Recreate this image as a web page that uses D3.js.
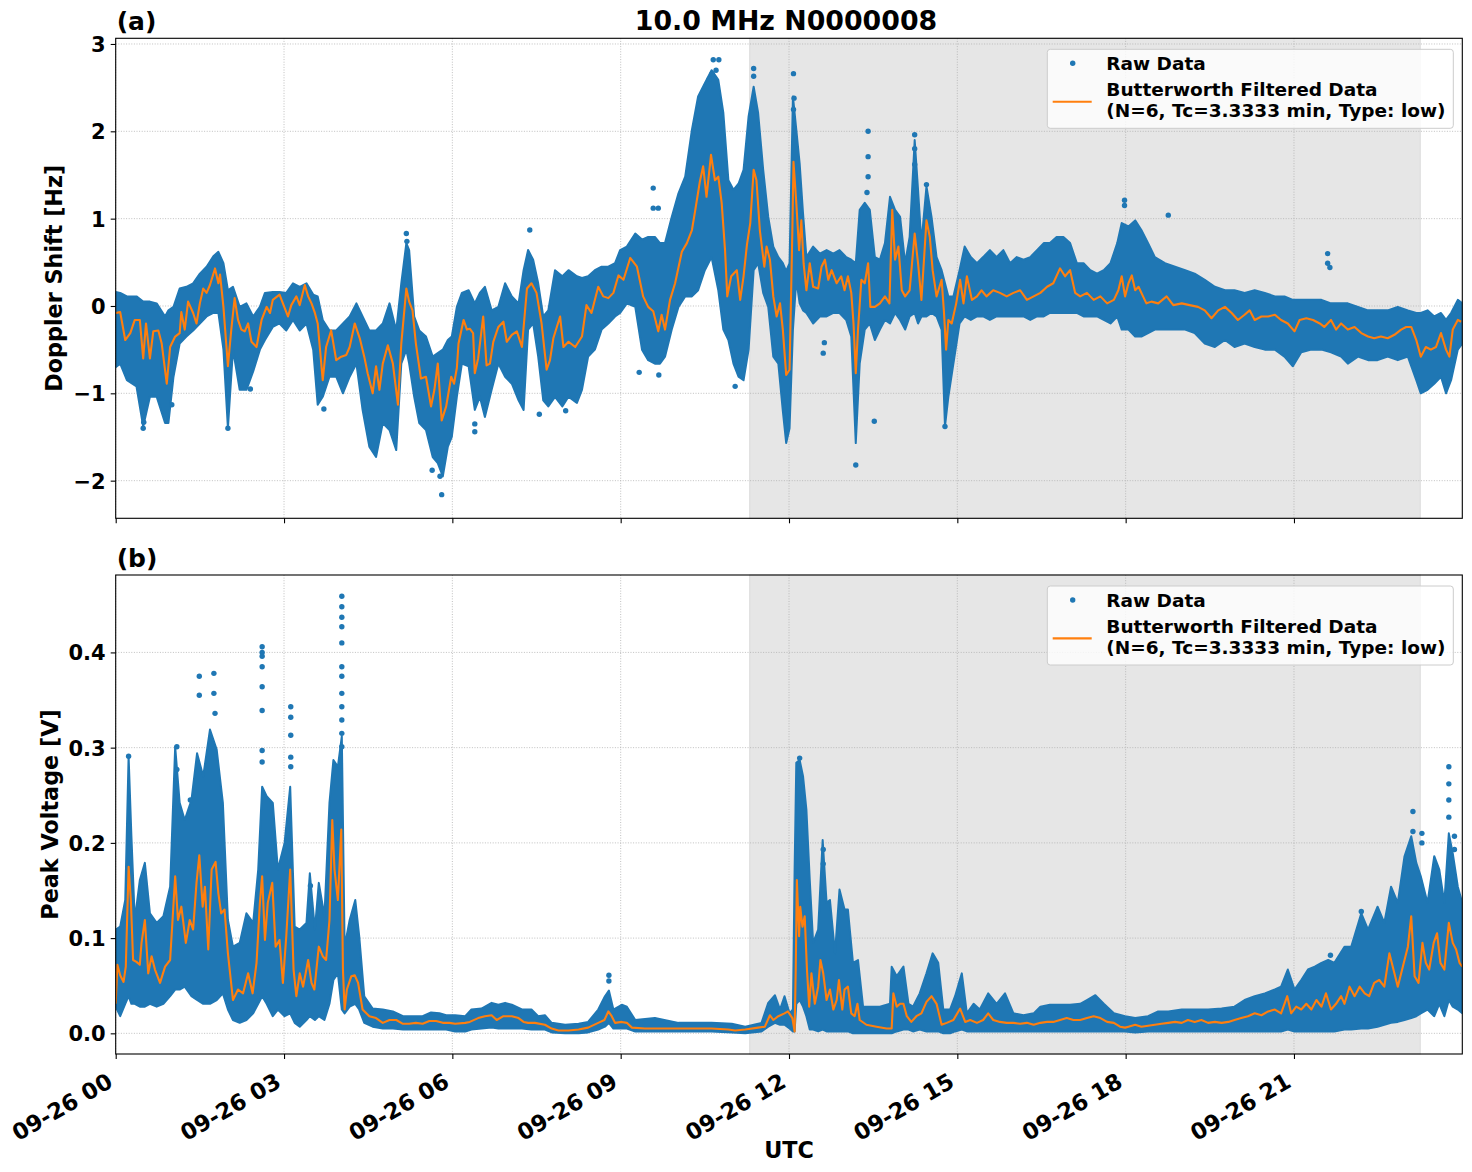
<!DOCTYPE html>
<html><head><meta charset="utf-8">
<script src="https://cdn.jsdelivr.net/npm/d3@7"></script>
<style>
body{margin:0;background:#fff}
svg{display:block}
text{font-family:"DejaVu Sans",sans-serif;font-weight:bold;fill:#000}
</style>
</head><body>
<svg id="chart" width="1472" height="1172"></svg>
<script>
// ---------------- DATA ----------------
const titleText = "10.0 MHz N0000008";
const panelLabels = ["(a)", "(b)"];
const yLabels = ["Doppler Shift [Hz]", "Peak Voltage [V]"];
const xLabel = "UTC";
const legendRaw = "Raw Data";
const legendFilt = ["Butterworth Filtered Data", "(N=6, Tc=3.3333 min, Type: low)"];
const xTickHours = [0, 3, 6, 9, 12, 15, 18, 21];
const yTicksA = [-2, -1, 0, 1, 2, 3];
const yTicksB = [0.0, 0.1, 0.2, 0.3, 0.4];
const shadeHours = [11.30, 23.25];

// Raw-data envelope, panel (a): [hour, upper, lower]
const bandA = [
[0.00,0.16,-0.70],[0.08,0.15,-0.66],[0.20,0.11,-0.85],[0.37,0.11,-0.92],[0.49,0.05,-1.38],[0.61,0.05,-1.04],
[0.73,0.03,-1.04],[0.88,-0.12,-1.34],[0.94,-0.05,-1.34],[1.03,-0.01,-0.81],[1.14,0.20,-0.43],[1.26,0.22,-0.35],
[1.38,0.26,-0.28],[1.50,0.37,-0.20],[1.62,0.45,-0.12],[1.74,0.57,-0.08],[1.83,0.62,-0.08],[1.92,0.49,-0.50],
[2.00,0.18,-1.40],[2.09,0.22,-0.50],[2.21,-0.01,-0.96],[2.33,0.03,-0.96],[2.45,-0.12,-0.75],[2.57,-0.01,-0.50],
[2.66,0.15,-0.39],[2.80,0.16,-0.24],[2.92,0.16,-0.20],[3.04,0.15,-0.28],[3.16,0.26,-0.16],[3.28,0.22,-0.28],
[3.40,0.26,-0.20],[3.52,0.13,-0.50],[3.60,0.11,-1.13],[3.69,-0.16,-1.04],[3.81,-0.28,-0.81],[3.93,-0.28,-0.81],
[4.05,-0.20,-1.00],[4.17,-0.12,-0.81],[4.29,0.03,-0.66],[4.40,-0.12,-1.19],[4.52,-0.28,-1.61],[4.64,-0.28,-1.73],
[4.76,-0.20,-1.34],[4.88,0.03,-1.42],[5.00,-0.28,-1.65],[5.09,0.26,-0.66],[5.18,0.72,-0.50],[5.23,0.64,-0.66],
[5.32,-0.12,-1.04],[5.41,-0.28,-1.34],[5.53,-0.35,-1.42],[5.65,-0.58,-1.73],[5.74,-0.54,-1.80],[5.83,-0.50,-1.95],
[5.92,-0.39,-1.61],[5.99,-0.35,-1.50],[6.08,-0.01,-1.04],[6.17,0.15,-0.66],[6.29,0.18,-0.69],[6.40,0.03,-1.19],
[6.49,0.15,-1.04],[6.58,0.22,-1.27],[6.70,-0.05,-0.96],[6.82,-0.01,-0.66],[6.94,0.26,-0.81],[7.06,0.11,-0.89],
[7.18,0.03,-1.08],[7.27,0.41,-1.19],[7.35,0.64,-0.27],[7.44,0.53,-0.20],[7.53,0.26,-0.58],[7.62,-0.12,-1.08],
[7.71,-0.05,-1.15],[7.83,0.41,-1.04],[7.96,0.34,-1.15],[8.07,0.41,-1.04],[8.22,0.34,-1.11],[8.31,0.32,-0.96],
[8.42,0.34,-0.58],[8.54,0.41,-0.50],[8.66,0.45,-0.27],[8.78,0.45,-0.20],[8.90,0.49,-0.12],[8.99,0.64,-0.08],
[9.11,0.68,0.03],[9.26,0.83,-0.01],[9.38,0.76,-0.50],[9.49,0.79,-0.62],[9.61,0.79,-0.66],[9.70,0.72,-0.66],
[9.79,0.72,-0.58],[9.91,1.02,-0.27],[10.03,1.29,-0.01],[10.15,1.48,0.11],[10.27,2.02,0.11],[10.38,2.40,0.18],
[10.50,2.55,0.41],[10.62,2.70,0.56],[10.74,2.59,0.18],[10.83,2.21,-0.27],[10.92,1.44,-0.39],[11.01,1.33,-0.66],
[11.10,1.40,-0.81],[11.19,1.56,-0.85],[11.28,2.17,-0.50],[11.37,2.51,0.41],[11.45,2.21,0.49],[11.54,1.56,0.15],
[11.63,1.02,-0.01],[11.72,0.68,-0.58],[11.81,0.56,-0.66],[11.89,0.49,-1.20],[11.95,0.40,-1.57],[12.01,0.49,-1.40],
[12.07,2.40,-0.27],[12.13,2.02,0.30],[12.19,1.63,0.03],[12.25,1.06,-0.05],[12.31,0.56,-0.08],[12.43,0.68,-0.20],
[12.55,0.60,-0.12],[12.67,0.64,-0.12],[12.79,0.60,-0.08],[12.90,0.64,-0.08],[13.02,0.56,-0.16],[13.11,0.53,-0.35],
[13.19,0.49,-1.57],[13.26,1.10,-0.66],[13.35,1.18,-0.27],[13.44,1.10,-0.20],[13.53,0.56,-0.39],[13.62,0.53,-0.27],
[13.71,0.72,-0.16],[13.80,1.25,-0.20],[13.89,1.10,-0.08],[13.98,1.02,-0.16],[14.07,0.49,-0.27],[14.15,0.79,-0.12],
[14.24,1.90,-0.08],[14.30,1.33,-0.20],[14.36,0.72,-0.12],[14.45,1.37,-0.12],[14.54,1.02,-0.08],[14.63,0.56,-0.12],
[14.72,0.41,-0.27],[14.78,0.26,-1.38],[14.84,0.11,-1.04],[14.93,0.11,-0.66],[15.04,0.41,-0.20],[15.13,0.68,-0.12],
[15.24,0.56,-0.16],[15.35,0.49,-0.12],[15.46,0.56,-0.12],[15.58,0.64,-0.16],[15.70,0.56,-0.12],[15.82,0.64,-0.12],
[15.94,0.49,-0.12],[16.06,0.56,-0.12],[16.18,0.53,-0.12],[16.30,0.56,-0.16],[16.42,0.64,-0.12],[16.54,0.72,-0.12],
[16.65,0.72,-0.08],[16.77,0.79,-0.08],[16.89,0.79,-0.08],[17.01,0.72,-0.08],[17.13,0.49,-0.08],[17.25,0.49,-0.12],
[17.37,0.41,-0.12],[17.49,0.37,-0.12],[17.61,0.41,-0.16],[17.73,0.49,-0.20],[17.85,0.72,-0.12],[17.93,0.95,-0.27],
[18.05,0.91,-0.27],[18.17,0.98,-0.35],[18.28,0.87,-0.35],[18.40,0.72,-0.31],[18.52,0.56,-0.27],[18.70,0.49,-0.27],
[18.88,0.45,-0.27],[19.06,0.41,-0.27],[19.23,0.37,-0.31],[19.41,0.30,-0.43],[19.59,0.22,-0.47],[19.77,0.18,-0.39],
[19.94,0.18,-0.47],[20.12,0.15,-0.43],[20.30,0.18,-0.47],[20.48,0.15,-0.50],[20.66,0.11,-0.50],[20.83,0.11,-0.58],
[20.98,0.07,-0.69],[21.13,0.07,-0.53],[21.31,0.07,-0.50],[21.49,0.07,-0.50],[21.66,0.03,-0.53],[21.84,0.03,-0.58],
[21.96,0.03,-0.66],[22.14,-0.01,-0.58],[22.32,-0.05,-0.62],[22.49,-0.05,-0.62],[22.67,-0.05,-0.58],[22.85,-0.01,-0.62],
[23.03,-0.05,-0.58],[23.18,-0.08,-0.85],[23.26,-0.08,-1.00],[23.38,-0.05,-0.96],[23.50,-0.12,-0.89],[23.62,-0.08,-0.81],
[23.71,-0.16,-1.00],[23.80,-0.08,-0.85],[23.92,0.07,-0.50],[24.00,0.03,-0.43]
];

// Butterworth filtered series, panel (a): [hour, Hz]
const filtA = [
[0.00,-0.08],[0.08,-0.07],[0.17,-0.39],[0.26,-0.31],[0.34,-0.16],[0.43,-0.16],[0.49,-0.60],[0.54,-0.20],[0.61,-0.60],
[0.67,-0.29],[0.76,-0.28],[0.82,-0.43],[0.91,-0.89],[0.97,-0.47],[1.06,-0.35],[1.14,-0.31],[1.17,-0.07],[1.23,-0.27],
[1.29,0.05],[1.38,-0.08],[1.44,-0.20],[1.50,0.03],[1.56,0.20],[1.62,0.15],[1.68,0.24],[1.77,0.43],[1.83,0.26],[1.86,0.36],
[1.92,-0.01],[2.00,-0.69],[2.06,-0.27],[2.12,0.09],[2.18,-0.16],[2.24,-0.27],[2.30,-0.29],[2.36,-0.20],[2.42,-0.41],
[2.51,-0.47],[2.60,-0.16],[2.69,-0.01],[2.75,-0.08],[2.80,0.07],[2.92,0.13],[2.98,0.03],[3.07,-0.12],[3.13,0.01],
[3.22,0.11],[3.28,0.01],[3.37,0.24],[3.43,0.11],[3.49,0.03],[3.55,-0.08],[3.60,-0.20],[3.69,-0.85],[3.75,-0.47],
[3.84,-0.28],[3.93,-0.62],[4.02,-0.58],[4.11,-0.56],[4.17,-0.47],[4.26,-0.20],[4.35,-0.37],[4.43,-0.58],[4.49,-0.77],
[4.58,-1.00],[4.64,-0.69],[4.70,-0.96],[4.76,-0.66],[4.85,-0.45],[4.94,-0.66],[5.03,-1.13],[5.09,-0.43],[5.18,0.20],
[5.23,0.05],[5.29,-0.05],[5.35,-0.43],[5.44,-0.83],[5.53,-0.81],[5.62,-1.15],[5.68,-0.96],[5.74,-0.66],[5.81,-1.31],
[5.89,-1.15],[5.98,-0.81],[6.03,-0.89],
[6.08,-0.71],[6.11,-0.43],[6.20,-0.16],[6.26,-0.27],[6.31,-0.26],[6.37,-0.31],[6.40,-0.77],[6.46,-0.60],[6.55,-0.12],
[6.61,-0.68],[6.67,-0.66],[6.73,-0.41],[6.82,-0.24],[6.91,-0.18],[6.97,-0.41],[7.06,-0.33],[7.15,-0.29],[7.24,-0.47],
[7.33,0.20],[7.41,0.26],[7.50,0.15],[7.59,-0.20],[7.68,-0.73],[7.74,-0.62],[7.80,-0.37],[7.92,-0.12],[7.98,-0.47],
[8.07,-0.41],[8.19,-0.47],[8.31,-0.35],[8.39,0.01],[8.48,-0.08],[8.60,0.22],[8.69,0.11],[8.78,0.09],[8.87,0.15],
[8.96,0.35],[9.05,0.30],[9.17,0.55],[9.29,0.45],[9.40,0.11],[9.49,-0.01],[9.58,-0.06],[9.67,-0.29],[9.73,-0.10],
[9.79,-0.27],[9.88,0.07],[9.97,0.26],[10.09,0.62],[10.18,0.72],[10.27,0.87],[10.33,1.10],[10.41,1.42],[10.47,1.60],
[10.53,1.25],[10.61,1.73],[10.68,1.44],[10.74,1.48],[10.80,1.18],[10.86,0.64],[10.90,0.11],[10.97,0.34],[11.07,0.41],
[11.13,0.07],[11.19,0.34],[11.25,0.70],[11.31,0.95],[11.37,1.56],[11.42,1.44],[11.48,0.87],[11.56,0.45],[11.60,0.68],
[11.66,0.53],[11.72,0.11],[11.78,-0.12],[11.84,0.03],
[11.89,-0.27],[11.95,-0.79],[12.01,-0.73],[12.06,0.87],[12.08,1.65],[12.13,1.18],[12.18,0.64],[12.22,0.98],[12.26,0.49],
[12.31,0.18],[12.37,0.49],[12.43,0.22],[12.52,0.20],[12.58,0.45],[12.64,0.53],[12.70,0.30],[12.76,0.41],[12.85,0.26],
[12.93,0.34],[12.99,0.18],[13.05,0.34],[13.11,0.15],[13.15,-0.20],[13.19,-0.77],[13.23,-0.27],[13.29,0.30],[13.35,0.26],
[13.41,0.49],[13.45,-0.01],[13.53,-0.01],[13.62,0.03],[13.71,0.11],[13.79,0.03],[13.84,1.10],[13.89,0.53],[13.95,0.68],
[14.01,0.18],[14.07,0.11],[14.15,0.18],[14.24,0.83],[14.30,0.49],[14.36,0.07],[14.45,0.98],[14.51,0.79],[14.56,0.41],
[14.63,0.11],[14.72,0.30],[14.76,-0.05],[14.80,-0.50],[14.84,-0.16],[14.90,-0.20],[14.98,0.03],[15.05,0.30],[15.11,0.03],
[15.17,0.34],[15.26,0.07],[15.35,0.11],[15.43,0.18],[15.52,0.11],[15.64,0.18],[15.76,0.15],[15.88,0.11],[16.00,0.15],
[16.12,0.18],[16.24,0.07],[16.36,0.11],[16.48,0.15],[16.60,0.22],[16.71,0.26],[16.83,0.43],[16.92,0.34],[17.01,0.41],
[17.10,0.15],[17.19,0.11],[17.31,0.15],[17.43,0.07],[17.55,0.11],[17.67,0.03],[17.79,0.07],
[17.87,0.18],[17.93,0.34],[17.99,0.11],[18.05,0.26],[18.11,0.35],[18.17,0.18],[18.23,0.22],[18.31,0.11],[18.37,0.03],
[18.46,0.05],[18.58,0.03],[18.73,0.11],[18.85,0.01],[19.00,0.03],[19.14,0.01],[19.29,-0.01],[19.41,-0.05],[19.53,-0.14],
[19.65,-0.05],[19.77,-0.01],[19.89,-0.08],[20.00,-0.16],[20.12,-0.10],[20.21,-0.05],[20.30,-0.16],[20.42,-0.12],
[20.54,-0.12],[20.66,-0.10],[20.77,-0.16],[20.89,-0.20],[21.01,-0.29],[21.10,-0.16],[21.22,-0.14],[21.34,-0.16],
[21.46,-0.20],[21.54,-0.24],[21.66,-0.16],[21.75,-0.27],[21.84,-0.20],[21.96,-0.27],[22.08,-0.24],[22.20,-0.31],
[22.32,-0.35],[22.43,-0.37],[22.55,-0.35],[22.67,-0.37],[22.79,-0.33],[22.91,-0.27],[23.00,-0.24],[23.09,-0.24],
[23.18,-0.39],[23.26,-0.58],[23.35,-0.47],[23.44,-0.50],[23.53,-0.47],[23.62,-0.31],[23.71,-0.50],[23.77,-0.58],
[23.83,-0.27],[23.92,-0.16],[23.98,-0.18]
];

// Isolated raw points, panel (a): [hour, Hz]
const outA = [
[5.81,-2.16],[5.64,-1.88],[5.78,-1.95],[5.18,0.83],[5.19,0.74],[0.49,-1.40],[0.50,-1.33],[2.00,-1.40],
[10.65,2.82],[10.75,2.82],[10.63,2.66],[10.58,2.60],[10.70,2.70],[9.58,1.35],[9.58,1.12],[9.67,1.12],[7.38,0.87],
[6.40,-1.44],[6.40,-1.35],[11.37,2.72],[11.37,2.63],[12.08,2.66],[12.09,2.38],[12.08,2.25],
[13.41,2.00],[13.41,1.71],[13.41,1.48],[13.39,1.30],[14.24,1.96],[14.24,1.80],[14.24,1.62],[14.25,1.45],
[13.19,-1.82],[13.52,-1.32],[12.61,-0.54],[12.63,-0.42],[14.45,1.39],[14.78,-1.38],
[17.98,1.21],[17.98,1.15],[18.76,1.04],[21.60,0.60],[21.60,0.49],[21.64,0.44],[8.02,-1.20],[7.55,-1.24],
[9.33,-0.76],[9.68,-0.79],[11.04,-0.92],[3.71,-1.18],[1.00,-1.13],[2.40,-0.95]
];

// Raw-data envelope, panel (b): [hour, upper, lower]
const bandB = [
[0.00,0.109,0.028],[0.08,0.112,0.018],[0.17,0.140,0.031],[0.23,0.291,0.039],[0.28,0.207,0.031],[0.34,0.119,0.031],
[0.43,0.161,0.028],[0.52,0.179,0.028],[0.61,0.126,0.031],[0.73,0.116,0.028],[0.85,0.123,0.031],[0.97,0.154,0.039],
[1.06,0.301,0.046],[1.14,0.242,0.046],[1.23,0.224,0.049],[1.35,0.245,0.039],[1.45,0.294,0.035],[1.56,0.270,0.031],
[1.68,0.319,0.031],[1.80,0.298,0.035],[1.91,0.242,0.042],[2.00,0.119,0.025],[2.09,0.091,0.014],[2.21,0.095,0.011],
[2.33,0.126,0.014],[2.45,0.116,0.021],[2.54,0.172,0.031],[2.61,0.259,0.039],[2.69,0.249,0.031],[2.80,0.242,0.018],
[2.89,0.172,0.025],[3.01,0.200,0.018],[3.11,0.259,0.021],[3.19,0.112,0.011],[3.28,0.109,0.007],[3.40,0.116,0.014],
[3.46,0.168,0.018],[3.55,0.109,0.014],[3.62,0.158,0.018],[3.72,0.123,0.014],[3.81,0.242,0.031],[3.88,0.287,0.056],
[3.96,0.280,0.063],[4.03,0.312,0.025],[4.08,0.091,0.021],[4.17,0.119,0.028],[4.27,0.140,0.031],[4.34,0.102,0.025],
[4.43,0.039,0.011],[4.58,0.026,0.007],[4.76,0.025,0.005],[4.94,0.023,0.005],[5.12,0.018,0.004],[5.29,0.018,0.004],
[5.47,0.018,0.004],[5.62,0.022,0.004],[5.77,0.021,0.004],[5.89,0.019,0.004],[6.05,0.019,0.002],[6.23,0.018,0.002],
[6.34,0.025,0.004],[6.52,0.026,0.005],[6.70,0.032,0.006],[6.82,0.030,0.005],[6.94,0.032,0.005],[7.06,0.030,0.005],
[7.24,0.025,0.005],[7.41,0.025,0.004],[7.53,0.018,0.004],[7.65,0.019,0.004],[7.77,0.011,0.001],[8.01,0.009,0.000],
[8.25,0.010,0.000],[8.42,0.012,0.001],[8.60,0.025,0.004],[8.72,0.039,0.007],[8.79,0.045,0.011],[8.87,0.025,0.005],
[9.02,0.030,0.005],[9.11,0.028,0.005],[9.26,0.014,0.002],[9.61,0.016,0.002],[10.03,0.011,0.002],[10.62,0.011,0.002],
[10.98,0.010,0.001],[11.22,0.007,0.000],[11.51,0.011,0.002],[11.63,0.032,0.007],[11.75,0.040,0.011],[11.84,0.025,0.009],
[11.92,0.039,0.009],[12.01,0.021,0.005],[12.07,0.025,0.002],[12.10,0.172,0.002],[12.13,0.284,0.031],[12.19,0.287,0.035],
[12.25,0.270,0.028],[12.31,0.235,0.018],[12.37,0.161,0.004],[12.43,0.095,0.004],[12.52,0.109,0.002],[12.60,0.203,0.004],
[12.67,0.137,0.002],[12.73,0.140,0.002],[12.82,0.084,0.002],[12.90,0.151,0.002],[12.99,0.130,0.002],[13.05,0.130,0.002],
[13.14,0.074,0.000],[13.23,0.077,0.000],[13.32,0.028,0.000],[13.62,0.028,0.000],[13.80,0.031,0.000],[13.83,0.070,0.000],
[13.92,0.060,0.002],[14.04,0.070,0.004],[14.13,0.031,0.004],[14.21,0.028,0.002],[14.33,0.042,0.004],[14.45,0.063,0.002],
[14.56,0.084,0.002],[14.66,0.074,0.002],[14.75,0.025,0.000],[14.87,0.025,0.000],[14.96,0.039,0.002],[15.08,0.063,0.004],
[15.17,0.021,0.002],[15.29,0.031,0.002],[15.40,0.025,0.002],[15.55,0.042,0.002],[15.70,0.031,0.002],[15.85,0.042,0.002],
[16.00,0.021,0.002],[16.18,0.019,0.002],[16.36,0.021,0.002],[16.48,0.028,0.002],[16.65,0.030,0.002],[16.83,0.030,0.002],
[17.01,0.030,0.002],[17.19,0.031,0.002],[17.31,0.035,0.002],[17.46,0.040,0.002],[17.61,0.031,0.002],[17.79,0.021,0.002],
[17.99,0.018,0.002],[18.17,0.016,0.001],[18.40,0.018,0.002],[18.58,0.023,0.002],[18.76,0.023,0.002],[19.00,0.025,0.002],
[19.23,0.025,0.002],[19.47,0.025,0.002],[19.71,0.026,0.002],[19.94,0.028,0.002],[20.12,0.035,0.002],[20.30,0.039,0.002],
[20.48,0.042,0.002],[20.66,0.046,0.002],[20.77,0.049,0.002],[20.89,0.067,0.004],[21.01,0.046,0.002],[21.13,0.056,0.002],
[21.25,0.067,0.002],[21.37,0.070,0.002],[21.49,0.074,0.002],[21.61,0.077,0.002],[21.72,0.074,0.002],[21.90,0.091,0.004],
[22.02,0.091,0.004],[22.20,0.126,0.005],[22.32,0.109,0.005],[22.49,0.133,0.007],[22.61,0.116,0.009],[22.73,0.154,0.011],
[22.85,0.137,0.012],[22.97,0.186,0.014],[23.09,0.207,0.016],[23.18,0.179,0.018],[23.26,0.165,0.021],[23.38,0.137,0.025],
[23.50,0.186,0.018],[23.59,0.172,0.031],[23.68,0.137,0.018],[23.76,0.210,0.035],[23.83,0.189,0.028],[23.92,0.154,0.025],
[24.00,0.137,0.021]
];

// Butterworth filtered series, panel (b): [hour, V]
const filtB = [
[0.00,0.031],[0.03,0.072],[0.08,0.061],[0.14,0.054],[0.18,0.070],[0.23,0.175],[0.27,0.140],[0.31,0.077],[0.37,0.075],
[0.43,0.072],[0.46,0.095],[0.52,0.119],[0.58,0.063],[0.64,0.081],[0.70,0.067],[0.79,0.053],[0.88,0.070],[0.97,0.077],
[1.06,0.165],[1.11,0.119],[1.17,0.133],[1.25,0.095],[1.32,0.119],[1.38,0.109],[1.44,0.158],[1.49,0.187],[1.55,0.133],
[1.59,0.154],[1.65,0.088],[1.71,0.172],[1.78,0.180],[1.83,0.147],[1.88,0.126],[1.94,0.130],[2.00,0.084],[2.09,0.035],
[2.18,0.046],[2.27,0.042],[2.36,0.063],[2.44,0.042],[2.51,0.074],[2.57,0.137],[2.61,0.165],[2.66,0.098],[2.71,0.137],
[2.79,0.158],[2.85,0.091],[2.92,0.098],[2.98,0.053],[3.04,0.102],[3.11,0.172],[3.17,0.067],[3.22,0.039],[3.28,0.063],
[3.34,0.049],[3.43,0.077],[3.49,0.053],[3.54,0.046],[3.62,0.091],[3.69,0.081],[3.75,0.077],[3.81,0.119],[3.86,0.224],
[3.90,0.172],[3.96,0.140],[4.02,0.214],[4.05,0.067],[4.08,0.025],[4.12,0.046],[4.20,0.060],[4.26,0.061],[4.32,0.053],
[4.40,0.025],[4.52,0.018],[4.64,0.016],[4.76,0.011],[4.88,0.014],[5.00,0.014],[5.12,0.010],[5.23,0.010],[5.35,0.011],
[5.47,0.010],[5.59,0.013],[5.71,0.013],[5.83,0.011],[5.95,0.011],
[6.05,0.010],[6.23,0.011],[6.31,0.012],[6.46,0.016],[6.58,0.018],[6.70,0.019],[6.79,0.014],[6.91,0.018],[7.06,0.018],
[7.18,0.016],[7.27,0.012],[7.35,0.011],[7.47,0.011],[7.65,0.009],[7.77,0.005],[7.89,0.003],[8.07,0.003],[8.25,0.004],
[8.42,0.006],[8.60,0.011],[8.71,0.014],[8.78,0.023],[8.84,0.018],[8.90,0.011],[9.02,0.012],[9.11,0.011],[9.20,0.006],
[9.43,0.005],[9.73,0.005],[10.03,0.005],[10.33,0.005],[10.62,0.005],[10.92,0.004],[11.04,0.003],[11.22,0.004],
[11.45,0.006],[11.57,0.007],[11.66,0.019],[11.72,0.014],[11.81,0.018],
[11.92,0.021],[11.98,0.023],[12.06,0.016],[12.10,0.002],[12.12,0.067],[12.14,0.161],[12.18,0.102],[12.20,0.133],
[12.24,0.112],[12.28,0.123],[12.32,0.067],[12.36,0.028],[12.40,0.063],[12.46,0.031],[12.52,0.049],[12.56,0.077],
[12.61,0.063],[12.67,0.035],[12.73,0.046],[12.79,0.025],[12.85,0.035],[12.89,0.056],[12.95,0.025],[12.99,0.046],
[13.05,0.049],[13.11,0.021],[13.17,0.018],[13.22,0.031],[13.26,0.014],[13.38,0.009],[13.56,0.007],[13.74,0.005],
[13.83,0.005],[13.86,0.042],[13.92,0.028],[13.98,0.031],[14.04,0.031],[14.10,0.018],[14.18,0.012],[14.27,0.018],
[14.36,0.021],[14.45,0.033],[14.54,0.039],[14.63,0.031],[14.72,0.009],[14.81,0.011],[14.93,0.014],[15.05,0.026],
[15.14,0.012],[15.23,0.014],[15.35,0.011],[15.46,0.014],[15.55,0.021],[15.64,0.014],[15.76,0.012],[15.88,0.011],
[16.00,0.011],[16.12,0.010],[16.24,0.011],[16.36,0.009],[16.48,0.011],[16.60,0.012],[16.71,0.012],[16.83,0.014],
[16.95,0.016],[17.07,0.014],[17.19,0.014],[17.31,0.016],[17.43,0.018],[17.55,0.016],[17.67,0.012],[17.79,0.011],
[17.90,0.007],[17.99,0.006],
[18.05,0.007],[18.17,0.009],[18.28,0.007],[18.40,0.008],[18.52,0.009],[18.64,0.010],[18.76,0.011],[18.88,0.012],
[19.00,0.011],[19.11,0.014],[19.23,0.012],[19.35,0.014],[19.47,0.011],[19.59,0.012],[19.71,0.011],[19.83,0.012],
[19.94,0.014],[20.06,0.016],[20.18,0.018],[20.30,0.021],[20.42,0.019],[20.54,0.023],[20.66,0.025],[20.77,0.021],
[20.88,0.039],[20.95,0.021],[21.04,0.028],[21.13,0.025],[21.22,0.031],[21.31,0.025],[21.40,0.035],[21.49,0.028],
[21.57,0.042],[21.66,0.025],[21.75,0.031],[21.84,0.039],[21.90,0.031],[21.99,0.049],[22.08,0.039],[22.17,0.049],
[22.26,0.042],[22.34,0.039],[22.43,0.053],[22.52,0.056],[22.61,0.049],[22.70,0.084],[22.79,0.063],[22.85,0.049],
[22.94,0.070],[23.03,0.091],[23.09,0.123],[23.15,0.060],[23.22,0.053],[23.29,0.095],[23.35,0.074],[23.41,0.067],
[23.49,0.095],[23.55,0.105],[23.61,0.074],[23.68,0.067],[23.76,0.116],[23.83,0.095],[23.89,0.088],[23.95,0.074],
[24.00,0.070]
];

// Isolated raw points, panel (b): [hour, V]
const outB = [
[1.49,0.375],[1.49,0.355],[1.75,0.378],[1.75,0.357],[1.77,0.336],[2.61,0.406],[2.61,0.400],[2.61,0.396],[2.61,0.385],
[2.61,0.364],[2.61,0.339],[2.61,0.297],[2.61,0.285],[3.12,0.343],[3.12,0.332],[3.12,0.313],[3.12,0.290],[3.12,0.280],
[4.03,0.459],[4.03,0.448],[4.03,0.437],[4.03,0.427],[4.03,0.410],[4.03,0.385],[4.03,0.375],[4.03,0.357],[4.03,0.343],
[4.03,0.329],[4.03,0.315],[4.03,0.301],[1.09,0.301],[1.09,0.277],[1.33,0.245],[0.23,0.291],[3.47,0.155],[3.47,0.137],
[12.61,0.193],[12.61,0.178],[12.19,0.289],[23.76,0.280],[23.76,0.262],[23.76,0.245],[23.76,0.227],[23.12,0.233],
[23.12,0.212],[23.28,0.210],[23.28,0.200],[23.86,0.207],[23.86,0.193],[8.79,0.061],[8.79,0.055],[22.20,0.128],[21.65,0.082]
];

// ---------------- LAYOUT ----------------
const BLUE = "#1f77b4", ORANGE = "#ff7f0e";
const left = 115.7, right = 1462.3;
const panels = [
  {top: 38.3, bottom: 518.3, domain: [-2.431, 3.065], ticks: yTicksA, fmt: d => d3.format("d")(d).replace("-", "\u2212"),
   band: bandA, filt: filtA, out: outA, label: panelLabels[0], ylab: yLabels[0], ylabX: 62, showXLabels: false},
  {top: 575, bottom: 1054, domain: [-0.0217, 0.4813], ticks: yTicksB, fmt: d3.format(".1f"),
   band: bandB, filt: filtB, out: outB, label: panelLabels[1], ylab: yLabels[1], ylabX: 58, showXLabels: true}
];
const base = Date.UTC(2024, 8, 26);
const toDate = h => new Date(base + h * 3600e3);
const x = d3.scaleUtc().domain([toDate(0), toDate(24)]).range([left, right]);
const fmtX = d3.utcFormat("%m-%d %H");

const svg = d3.select("#chart");

svg.append("text").attr("x", (left + right) / 2 - 3).attr("y", 30).attr("text-anchor", "middle")
  .style("font-size", "26.8px").text(titleText);

panels.forEach((p, i) => {
  const y = d3.scaleLinear().domain(p.domain).range([p.bottom, p.top]);
  const g = svg.append("g");
  const clipId = "clip" + i;
  svg.append("clipPath").attr("id", clipId).append("rect")
    .attr("x", left).attr("y", p.top).attr("width", right - left).attr("height", p.bottom - p.top);

  // shaded interval
  g.append("rect").attr("x", x(toDate(shadeHours[0]))).attr("y", p.top)
    .attr("width", x(toDate(shadeHours[1])) - x(toDate(shadeHours[0]))).attr("height", p.bottom - p.top)
    .attr("fill", "#e6e6e6").attr("stroke", "#dadada").attr("stroke-width", 1);

  // grid
  const grid = g.append("g").attr("stroke", "#b0b0b0").attr("stroke-width", 0.8).attr("stroke-dasharray", "1,1.6");
  xTickHours.forEach(h => grid.append("line").attr("x1", x(toDate(h))).attr("x2", x(toDate(h)))
    .attr("y1", p.top).attr("y2", p.bottom));
  p.ticks.forEach(v => grid.append("line").attr("x1", left).attr("x2", right).attr("y1", y(v)).attr("y2", y(v)));

  const data = g.append("g").attr("clip-path", `url(#${clipId})`);
  // raw data envelope
  const area = d3.area().x(d => x(toDate(d[0]))).y0(d => y(d[2])).y1(d => y(d[1]));
  data.append("path").datum(p.band).attr("d", area).attr("fill", BLUE)
    .attr("stroke", BLUE).attr("stroke-width", 2).attr("stroke-linejoin", "round");
  data.selectAll("circle.o").data(p.out).join("circle").attr("class", "o")
    .attr("cx", d => x(toDate(d[0]))).attr("cy", d => y(d[1])).attr("r", 2.7).attr("fill", BLUE);
  // filtered line
  const line = d3.line().x(d => x(toDate(d[0]))).y(d => y(d[1]));
  data.append("path").datum(p.filt).attr("d", line).attr("fill", "none")
    .attr("stroke", ORANGE).attr("stroke-width", 2.1).attr("stroke-linejoin", "round");

  // axes
  const ax = d3.axisBottom(x).tickValues(xTickHours.map(toDate)).tickSize(5).tickPadding(5)
    .tickFormat(p.showXLabels ? fmtX : () => "");
  const gx = svg.append("g").attr("transform", `translate(0,${p.bottom})`).call(ax);
  const ay = d3.axisLeft(y).tickValues(p.ticks).tickSize(5).tickPadding(5).tickFormat(p.fmt);
  const gy = svg.append("g").attr("transform", `translate(${left},0)`).call(ay);
  [gx, gy].forEach(a => {
    a.select(".domain").remove();
    a.selectAll(".tick line").attr("stroke", "#000").attr("stroke-width", 1.1);
    a.selectAll("text").style("font-size", "21px").style("font-family", "DejaVu Sans").style("font-weight", "bold").attr("fill", "#000");
  });
  gy.selectAll(".tick text").attr("dy", "0.35em");
  if (p.showXLabels) {
    gx.selectAll(".tick text")
      .style("font-size", "22.5px")
      .attr("text-anchor", "end").attr("dy", 0).attr("y", 0)
      .attr("transform", "translate(-2,32) rotate(-30)");
  }
  // frame
  svg.append("rect").attr("x", left).attr("y", p.top).attr("width", right - left).attr("height", p.bottom - p.top)
    .attr("fill", "none").attr("stroke", "#000").attr("stroke-width", 1.1);

  // panel label
  svg.append("text").attr("x", left + 1).attr("y", p.top - 8.5).style("font-size", "25px").text(p.label);
  // y label
  svg.append("text").attr("transform", `translate(${p.ylabX},${(p.top + p.bottom) / 2}) rotate(-90)`)
    .attr("text-anchor", "middle").style("font-size", "22.3px").text(p.ylab);

  // legend
  const lg = svg.append("g").attr("transform", `translate(1047.3,${p.top + 11})`);
  lg.append("rect").attr("width", 406).attr("height", 79).attr("rx", 3)
    .attr("fill", "#fff").attr("fill-opacity", 0.8).attr("stroke", "#cccccc").attr("stroke-width", 1);
  lg.append("circle").attr("cx", 25.4).attr("cy", 14).attr("r", 2.7).attr("fill", BLUE);
  lg.append("text").attr("x", 59).attr("y", 20.5).style("font-size", "18.5px").text(legendRaw);
  lg.append("line").attr("x1", 5.4).attr("x2", 44.4).attr("y1", 52.4).attr("y2", 52.4)
    .attr("stroke", ORANGE).attr("stroke-width", 2.1);
  lg.append("text").attr("x", 59).attr("y", 47).style("font-size", "18.5px").text(legendFilt[0]);
  lg.append("text").attr("x", 59).attr("y", 67.5).style("font-size", "18.5px").text(legendFilt[1]);
});

svg.append("text").attr("x", (left + right) / 2).attr("y", 1158).attr("text-anchor", "middle")
  .style("font-size", "22.3px").text(xLabel);
</script>
</body></html>
